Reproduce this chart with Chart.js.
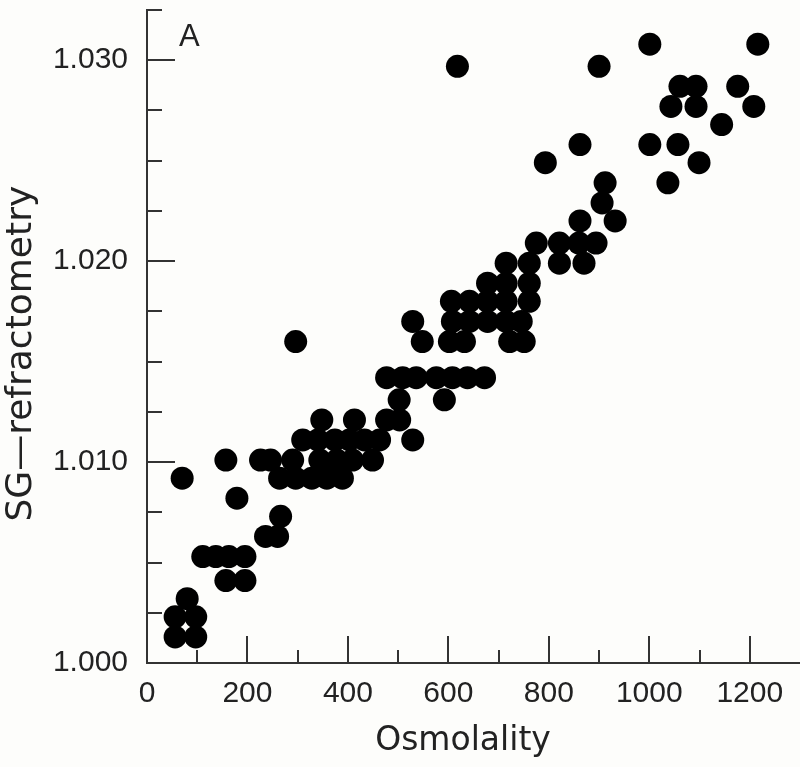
<!DOCTYPE html>
<html>
<head>
<meta charset="utf-8">
<title>SG vs Osmolality</title>
<script src="https://cdn.jsdelivr.net/npm/chart.js@4.4.1/dist/chart.umd.min.js"></script>
<style>
  html, body { margin: 0; padding: 0; background: #fdfdfb; }
  canvas { display: block; }
</style>
</head>
<body>
<canvas id="sgChart" width="800" height="767"></canvas>
<script>
// SG (refractometry) levels, one per row of dots
const sgRows = [
  1.0308, 1.0297, 1.0287, 1.0277, 1.0268, 1.0258, 1.0249, 1.0239, 1.0229, 1.0220,
  1.0209, 1.0199, 1.0189, 1.0180, 1.0170, 1.0160, 1.0142, 1.0131, 1.0121, 1.0111,
  1.0101, 1.0092, 1.0082, 1.0073, 1.0063, 1.0053, 1.0041, 1.0032, 1.0023, 1.0013
];

// osmolality of every dot on the matching row
const osmRows = [
  [1001, 1216],
  [618, 900],
  [1061, 1093, 1176],
  [1043, 1093, 1208],
  [1144],
  [862, 1001, 1057],
  [793, 1099],
  [912, 1037],
  [906],
  [862, 932],
  [775, 821, 860, 894],
  [715, 761, 821, 870],
  [678, 715, 761],
  [606, 642, 678, 715, 761],
  [529, 608, 642, 678, 715, 745],
  [296, 548, 602, 632, 722, 751],
  [477, 509, 536, 576, 608, 638, 672],
  [502, 592],
  [348, 413, 477, 503],
  [310, 340, 374, 403, 433, 463, 529],
  [157, 226, 246, 290, 344, 378, 409, 449],
  [70, 264, 296, 328, 358, 389],
  [179],
  [266],
  [236, 260],
  [111, 137, 163, 195],
  [157, 195],
  [80],
  [56, 97],
  [56, 97]
];

const xTickLabels = [0, 200, 400, 600, 800, 1000, 1200];
const yTickLabels = ["1.000", "1.010", "1.020", "1.030"];

const points = [];
sgRows.forEach((sg, i) => {
  osmRows[i].forEach(osm => points.push({ x: osm, y: sg }));
});

const axisColor = "#333";
const textColor = "#222";

// kleine Ticks nach innen (wie im Original)
const inwardTicks = {
  id: "inwardTicks",
  afterDraw(chart) {
    const ctx = chart.ctx;
    const xs = chart.scales.x;
    const ys = chart.scales.y;
    ctx.save();
    ctx.strokeStyle = axisColor;
    ctx.lineWidth = 2;
    ctx.beginPath();
    ys.ticks.forEach(t => {
      const py = Math.round(ys.getPixelForValue(t.value));
      const major = Math.round(t.value * 1000) % 10 === 0;
      const len = major ? 28 : 15;
      ctx.moveTo(ys.right, py);
      ctx.lineTo(ys.right + len, py);
    });
    xs.ticks.forEach(t => {
      if (t.value <= 0 || t.value >= xs.max) return;
      const px = Math.round(xs.getPixelForValue(t.value));
      const major = Math.round(t.value) % 200 === 0;
      const len = major ? 27 : 13;
      ctx.moveTo(px, xs.top);
      ctx.lineTo(px, xs.top - len);
    });
    ctx.stroke();

    // Panel-Buchstabe
    ctx.fillStyle = textColor;
    ctx.font = "31px 'Liberation Sans', Arial, sans-serif";
    ctx.textAlign = "left";
    ctx.textBaseline = "alphabetic";
    ctx.fillText("A", 179, 46);
    ctx.restore();
  }
};

new Chart(document.getElementById("sgChart"), {
  type: "scatter",
  data: {
    datasets: [{
      label: "SG",
      data: points,
      backgroundColor: "#000",
      borderWidth: 0,
      pointRadius: 11.5,
      pointHoverRadius: 11.5
    }]
  },
  options: {
    responsive: false,
    animation: false,
    devicePixelRatio: 1,
    layout: { autoPadding: false, padding: { top: 10, right: 0, bottom: 0, left: 0 } },
    plugins: { legend: { display: false }, tooltip: { enabled: false } },
    scales: {
      x: {
        type: "linear",
        min: 0,
        max: 1300,
        grid: { display: false, drawTicks: false },
        border: { display: true, color: axisColor, width: 2 },
        ticks: {
          stepSize: 100,
          autoSkip: false,
          maxRotation: 0,
          padding: 13,
          color: textColor,
          font: { family: "'Liberation Sans', Arial, sans-serif", size: 30 },
          callback: v => {
            const r = Math.round(v);
            return Math.abs(v - r) < 1e-6 && xTickLabels.includes(r) ? String(r) : "";
          }
        },
        title: {
          display: true,
          // trailing spaces shift the centred title a bit to the left
          text: "Osmolality\u00a0\u00a0",
          color: textColor,
          font: { family: "'DejaVu Sans', sans-serif", size: 33 },
          padding: { top: 0, bottom: 6 }
        },
        afterFit: s => {
          s.height = 104;
          s.paddingLeft = 0;
          s.paddingRight = 0;
        }
      },
      y: {
        type: "linear",
        min: 1.000,
        max: 1.0325,
        grid: { display: false, drawTicks: false },
        border: { display: true, color: axisColor, width: 2 },
        ticks: {
          stepSize: 0.0025,
          autoSkip: false,
          padding: 19,
          color: textColor,
          font: { family: "'Liberation Sans', Arial, sans-serif", size: 30 },
          callback: v => {
            const s = Number(v).toFixed(3);
            return yTickLabels.includes(s) && Math.round(v * 10000) % 100 === 0 ? s : "";
          }
        },
        title: {
          display: true,
          // trailing spaces nudge the centred title down a little, like the original
          text: "SG\u2014refractometry\u00a0\u00a0\u00a0",
          color: textColor,
          font: { family: "'DejaVu Sans', sans-serif", size: 36 },
          padding: { top: 0, bottom: 0 }
        },
        afterFit: s => {
          s.width = 147;
          s.paddingTop = 0;
          s.paddingBottom = 0;
        }
      }
    }
  },
  plugins: [inwardTicks]
});
</script>
</body>
</html>
